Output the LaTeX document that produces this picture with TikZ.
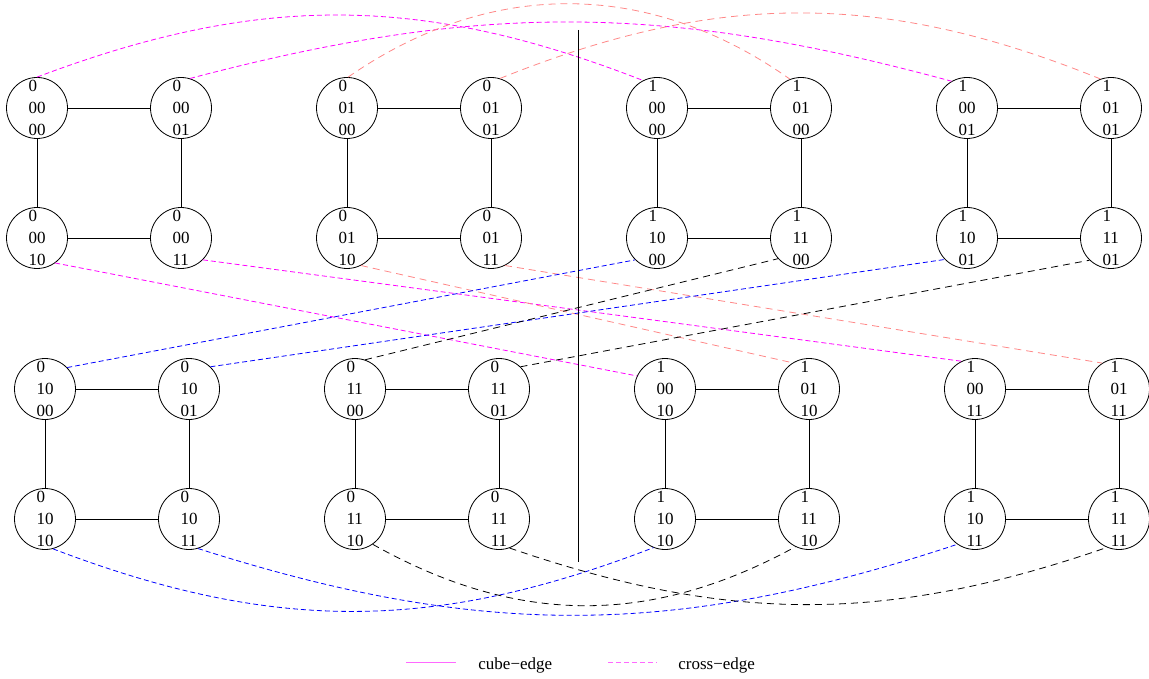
\documentclass[tikz,border=0pt]{standalone}
\usepackage{fontspec}
\setmainfont{Liberation Serif}
\usepackage{xcolor}
\colorlet{colorCube}{black}
\definecolor{colorMagenta}{RGB}{255,0,255}
\definecolor{colorSalmon}{RGB}{255,135,135}
\definecolor{colorBlue}{RGB}{0,0,255}
\colorlet{colorBlack}{black}
\definecolor{colorLegend}{RGB}{255,105,255}
\usepackage{tikz}
\usetikzlibrary{automata, positioning}
\tikzset{every state/.style={draw, circle, minimum size=61pt, inner sep=0pt, align=left, font=\fontsize{17}{21.7}\selectfont}}
\tikzset{cube/.style={draw=colorCube}, crossshort/.style={dash pattern=on 5pt off 3pt}, crosslong/.style={dash pattern=on 7pt off 5pt}}

\begin{document}
\begin{tikzpicture}[x=1pt, y=-1pt, on grid, node distance=130pt and 144pt, line width=0.8pt]
\useasboundingbox (0,0) rectangle (1149,679);
% upper left
\node[state] (n00000) at (37,108) {0\\00\\00};
\node[state, right=of n00000] (n00001) {0\\00\\01};
\node[state, below=of n00000] (n00010) {0\\00\\10};
\node[state, below=of n00001] (n00011) {0\\00\\11};
\node[state] (n00100) at (347,108) {0\\01\\00};
\node[state, right=of n00100] (n00101) {0\\01\\01};
\node[state, below=of n00100] (n00110) {0\\01\\10};
\node[state, below=of n00101] (n00111) {0\\01\\11};
% upper right
\node[state] (n10000) at (657,108) {1\\00\\00};
\node[state, right=of n10000] (n10100) {1\\01\\00};
\node[state, below=of n10000] (n11000) {1\\10\\00};
\node[state, below=of n10100] (n11100) {1\\11\\00};
\node[state] (n10001) at (967,108) {1\\00\\01};
\node[state, right=of n10001] (n10101) {1\\01\\01};
\node[state, below=of n10001] (n11001) {1\\10\\01};
\node[state, below=of n10101] (n11101) {1\\11\\01};
% lower left
\node[state] (n01000) at (45,389) {0\\10\\00};
\node[state, right=of n01000] (n01001) {0\\10\\01};
\node[state, below=of n01000] (n01010) {0\\10\\10};
\node[state, below=of n01001] (n01011) {0\\10\\11};
\node[state] (n01100) at (355,389) {0\\11\\00};
\node[state, right=of n01100] (n01101) {0\\11\\01};
\node[state, below=of n01100] (n01110) {0\\11\\10};
\node[state, below=of n01101] (n01111) {0\\11\\11};
% lower right
\node[state] (n10010) at (665,389) {1\\00\\10};
\node[state, right=of n10010] (n10110) {1\\01\\10};
\node[state, below=of n10010] (n11010) {1\\10\\10};
\node[state, below=of n10110] (n11110) {1\\11\\10};
\node[state] (n10011) at (975,389) {1\\00\\11};
\node[state, right=of n10011] (n10111) {1\\01\\11};
\node[state, below=of n10011] (n11011) {1\\10\\11};
\node[state, below=of n10111] (n11111) {1\\11\\11};
% cube-edges
\draw [cube] (n00000) edge (n00001) edge (n00010) (n00011) edge (n00001) edge (n00010);
\draw [cube] (n00100) edge (n00101) edge (n00110) (n00111) edge (n00101) edge (n00110);
\draw [cube] (n10000) edge (n10100) edge (n11000) (n11100) edge (n10100) edge (n11000);
\draw [cube] (n10001) edge (n10101) edge (n11001) (n11101) edge (n10101) edge (n11001);
\draw [cube] (n01000) edge (n01001) edge (n01010) (n01011) edge (n01001) edge (n01010);
\draw [cube] (n01100) edge (n01101) edge (n01110) (n01111) edge (n01101) edge (n01110);
\draw [cube] (n10010) edge (n10110) edge (n11010) (n11110) edge (n10110) edge (n11010);
\draw [cube] (n10011) edge (n10111) edge (n11011) (n11111) edge (n10111) edge (n11011);
% cross-edges
\draw [colorMagenta, crossshort] (n00000.90) edge [bend left=21] (n10000.117);
\draw [colorMagenta, crossshort] (n00001.73) edge [bend left=15] (n10001.120);
\draw [colorSalmon, crosslong] (n00100.88) edge [bend left=35] (n10100.111);
\draw [colorSalmon, crosslong] (n00101.73) edge [bend left=22] (n10101.110);
\draw [colorMagenta, crossshort] (n00010.-54) edge (n10010.155);
\draw [colorMagenta, crossshort] (n00011.-45) edge (n10011.116);
\draw [colorSalmon, crosslong] (n00110.-63) edge (n10110.122);
\draw [colorSalmon, crosslong] (n00111.-63) edge (n10111.123);
\draw [colorBlue, crossshort] (n01000.44) edge (n11000.-135);
\draw [colorBlue, crossshort] (n01001.46) edge (n11001.-136);
\draw [colorBlack, crosslong] (n01100.71) edge (n11100.-138);
\draw [colorBlack, crosslong] (n01101.46) edge (n11101.-134);
\draw [colorBlue, crossshort] (n01010.-75) edge [bend right=21] (n11010.-112);
\draw [colorBlue, crossshort] (n01011.-73) edge [bend right=18] (n11011.-125);
\draw [colorBlack, crosslong] (n01110.-55) edge [bend right=29] (n11110.-116);
\draw [colorBlack, crosslong] (n01111.-70) edge [bend right=19] (n11111.-113);
% divider
\coordinate (divTop) at (578,30);
\coordinate (divBot) at (578,562);
\draw (divTop) -- (divBot);
% legend
\coordinate (cubeL) at (406,662);
\coordinate (cubeR) at (456,662);
\draw [colorLegend] (cubeL) -- (cubeR);
\node [anchor=base west, inner sep=0pt, font=\fontsize{17}{20}\selectfont] (cubeText) at (478,669) {cube−edge};
\coordinate (crossL) at (608,662);
\coordinate (crossR) at (657,662);
\draw [colorLegend, crossshort] (crossL) -- (crossR);
\node [anchor=base west, inner sep=0pt, font=\fontsize{17}{20}\selectfont] (crossText) at (678,669) {cross−edge};
\end{tikzpicture}
\end{document}
